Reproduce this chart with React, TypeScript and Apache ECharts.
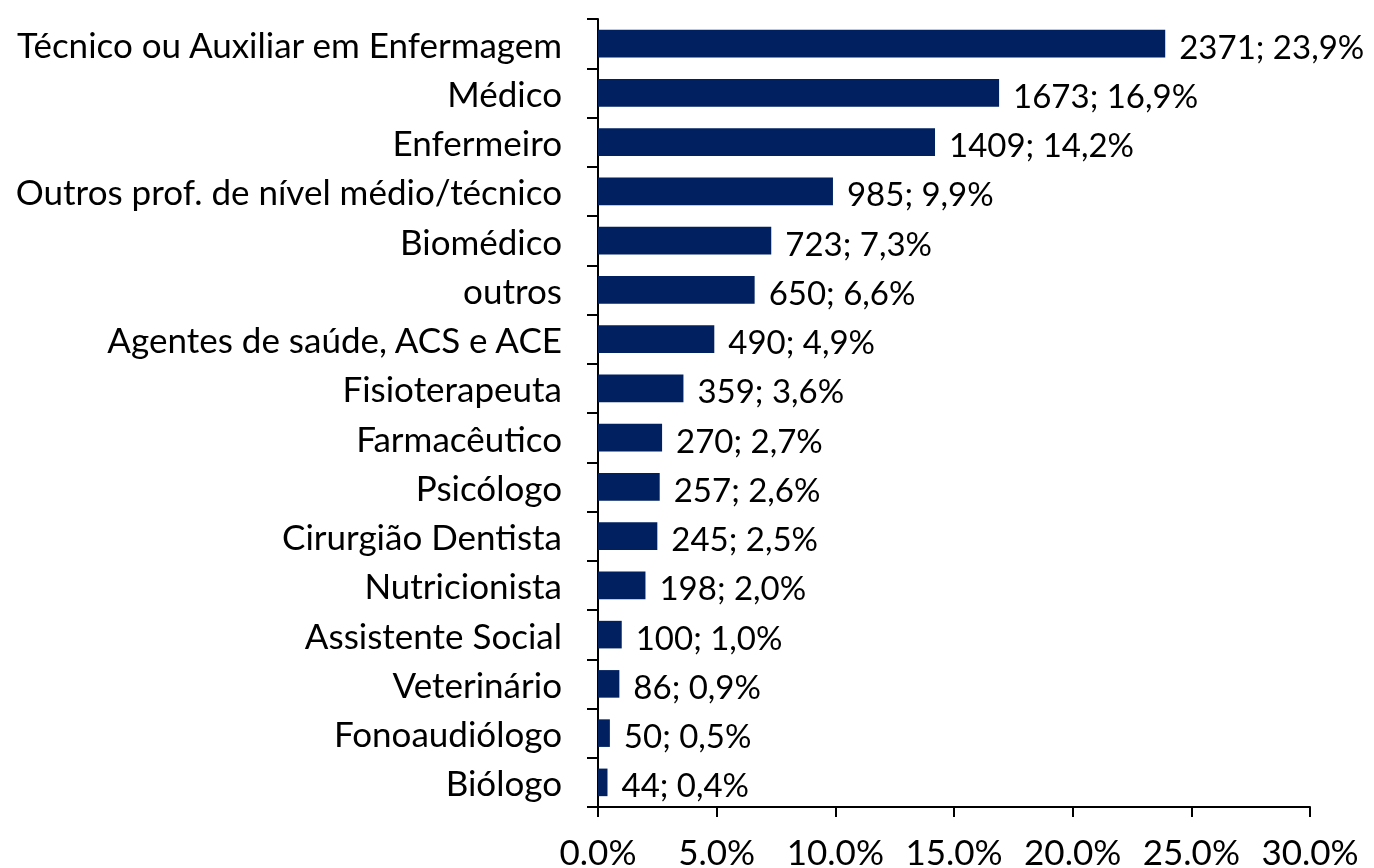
import React, { useEffect, useRef } from "react";
import * as echarts from "echarts";

const categories = [
  "Técnico ou Auxiliar em Enfermagem",
  "Médico",
  "Enfermeiro",
  "Outros prof. de nível médio/técnico",
  "Biomédico",
  "outros",
  "Agentes de saúde, ACS e ACE",
  "Fisioterapeuta",
  "Farmacêutico",
  "Psicólogo",
  "Cirurgião Dentista",
  "Nutricionista",
  "Assistente Social",
  "Veterinário",
  "Fonoaudiólogo",
  "Biólogo",
];
const counts = [2371, 1673, 1409, 985, 723, 650, 490, 359, 270, 257, 245, 198, 100, 86, 50, 44];
const percents = [23.9, 16.9, 14.2, 9.9, 7.3, 6.6, 4.9, 3.6, 2.7, 2.6, 2.5, 2.0, 1.0, 0.9, 0.5, 0.4];

const FONT = "Lato";

export default function App() {
  const ref = useRef<HTMLDivElement>(null);
  useEffect(() => {
    if (!ref.current) return;
    const chart = echarts.init(ref.current, null, { renderer: "svg" });
    chart.setOption({
      animation: false,
      grid: { left: 598, right: 64, top: 19, bottom: 57, containLabel: false },
      xAxis: {
        type: "value",
        min: 0,
        max: 30,
        interval: 5,
        splitLine: { show: false },
        axisLine: { show: true, lineStyle: { color: "#000", width: 2 } },
        axisTick: { show: true, length: 10, lineStyle: { color: "#000", width: 2 } },
        axisLabel: {
          formatter: (v: number) => v.toFixed(1) + "%",
          color: "#000",
          fontFamily: FONT,
          fontSize: 35,
          margin: 26,
        },
      },
      yAxis: {
        type: "category",
        data: categories,
        inverse: true,
        axisLine: { show: true, lineStyle: { color: "#000", width: 2 } },
        axisTick: { show: true, length: 11, lineStyle: { color: "#000", width: 2 } },
        axisLabel: {
          color: "#000",
          fontFamily: FONT,
          fontSize: 35,
          margin: 36,
        },
      },
      series: [
        {
          type: "bar",
          data: percents,
          barCategoryGap: "44%",
          itemStyle: { color: "#002060" },
          label: {
            show: true,
            position: "right",
            distance: 14,
            offset: [0, 2],
            color: "#000",
            fontFamily: FONT,
            fontSize: 33,
            formatter: (p: any) =>
              `${counts[p.dataIndex]}; ${percents[p.dataIndex].toFixed(1).replace(".", ",")}%`,
          },
        },
      ],
    });
    return () => chart.dispose();
  }, []);
  return (
    <div
      ref={ref}
      style={{ position: "fixed", left: 0, top: 0, width: 1374, height: 868 }}
    />
  );
}
